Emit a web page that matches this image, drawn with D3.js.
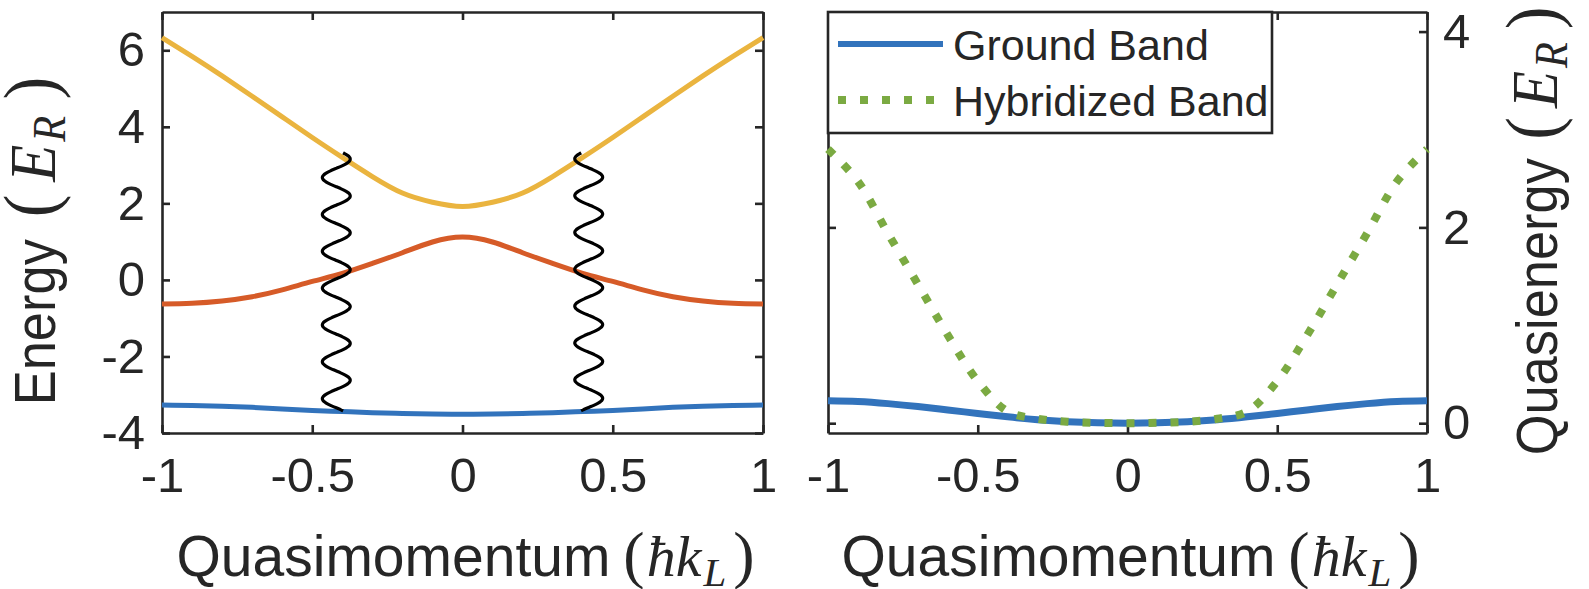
<!DOCTYPE html>
<html>
<head>
<meta charset="utf-8">
<script src="https://cdn.jsdelivr.net/npm/d3@7"></script>
<style>
  body { margin: 0; background: #fff; }
  svg text { fill: #262626; }
</style>
</head>
<body>
<div id="app"></div>
<script>
// quasimomentum grid, in units of hbar k_L
const quasimomentum = [-1, -0.9, -0.8, -0.7, -0.6, -0.5, -0.4, -0.3, -0.2, -0.1, 0,
                       0.1, 0.2, 0.3, 0.4, 0.5, 0.6, 0.7, 0.8, 0.9, 1];

// left panel: bare bands (E_R)
const upperBand  = [6.33, 5.84, 5.33, 4.80, 4.26, 3.72, 3.20, 2.70, 2.27, 2.03, 1.92,
                    2.03, 2.27, 2.70, 3.20, 3.72, 4.26, 4.80, 5.33, 5.84, 6.33];
const middleBand = [-0.63, -0.61, -0.55, -0.44, -0.26, -0.04, 0.17, 0.43, 0.71, 0.99, 1.12,
                    0.99, 0.71, 0.43, 0.17, -0.04, -0.26, -0.44, -0.55, -0.61, -0.63];
const groundBand = [-3.27, -3.28, -3.30, -3.33, -3.37, -3.41, -3.44, -3.47, -3.49, -3.505, -3.51,
                    -3.505, -3.49, -3.47, -3.44, -3.41, -3.37, -3.33, -3.30, -3.28, -3.27];

// right panel: quasienergies (E_R)
const groundQuasi = [0.23, 0.222, 0.20, 0.17, 0.135, 0.10, 0.065, 0.035, 0.015, 0.004, 0,
                     0.004, 0.015, 0.035, 0.065, 0.10, 0.135, 0.17, 0.20, 0.222, 0.23];
const hybridQuasi = [2.80, 2.47, 1.94, 1.42, 0.90, 0.43, 0.12, 0.045, 0.015, 0.004, 0,
                     0.004, 0.015, 0.045, 0.12, 0.43, 0.90, 1.42, 1.94, 2.47, 2.80];

// photon couplings drawn as wavy lines
const photonK = [-0.42, 0.42];
const photonFrom = [-3.42, -3.42];
const photonTo = [3.32, 3.32];
const photonPhase = [0.67, 0.16];
const photonCycles = 7;

const xTicks = [-1, -0.5, 0, 0.5, 1];
const leftYTicks = [-4, -2, 0, 2, 4, 6];
const rightYTicks = [0, 2, 4];
const legendLabels = ["Ground Band", "Hybridized Band"];

const W = 1589, H = 589;
const axisColor = "#262626";
const sans = "'Liberation Sans', Arial, Helvetica, sans-serif";
const serif = "'Liberation Serif', 'DejaVu Serif', serif";
const colors = { upper: "#EAB43F", middle: "#D65B28", ground: "#3273BC", hybrid: "#7BAA42" };
const tickFont = 49, labelFont = 57;

const svg = d3.select("#app").append("svg")
    .attr("width", W)
    .attr("height", H);

const plotTop = 12, plotBottom = 433;

// left panel scales
const xL = d3.scaleLinear().domain([-1, 1]).range([162, 763]);
const yL = d3.scaleLinear().domain([-4, 7]).range([plotBottom, plotTop]);
// right panel scales
const xR = d3.scaleLinear().domain([-1, 1]).range([828, 1427]);
const yR = d3.scaleLinear().domain([-0.1, 4.2]).range([plotBottom, plotTop]);

function styleAxis(g) {
    g.select(".domain").attr("stroke", axisColor).attr("stroke-width", 2.6);
    g.selectAll(".tick line").attr("stroke", axisColor).attr("stroke-width", 2.6);
    g.selectAll(".tick text")
        .style("font-family", sans)
        .style("font-size", tickFont + "px")
        .attr("fill", axisColor);
}

function drawBox(x, y, yTicks, labelSide) {
    const g = svg.append("g");
    const bottomAx = d3.axisBottom(x).tickValues(xTicks).tickSizeInner(-8).tickSizeOuter(0)
        .tickPadding(24).tickFormat(d3.format("~g"));
    styleAxis(g.append("g").attr("transform", `translate(0,${plotBottom})`).call(bottomAx));

    const topAx = d3.axisTop(x).tickValues(xTicks).tickSizeInner(-8).tickSizeOuter(0).tickFormat("");
    styleAxis(g.append("g").attr("transform", `translate(0,${plotTop})`).call(topAx));

    const x0 = x.range()[0], x1 = x.range()[1];
    const leftAx = d3.axisLeft(y).tickValues(yTicks).tickSizeInner(-8).tickSizeOuter(0)
        .tickPadding(17).tickFormat(labelSide === "left" ? d3.format("~g") : "");
    styleAxis(g.append("g").attr("transform", `translate(${x0},0)`).call(leftAx));

    const rightAx = d3.axisRight(y).tickValues(yTicks).tickSizeInner(-8).tickSizeOuter(0)
        .tickPadding(16).tickFormat(labelSide === "right" ? d3.format("~g") : "");
    styleAxis(g.append("g").attr("transform", `translate(${x1},0)`).call(rightAx));

    g.selectAll(".tick text").text(function() {
        return d3.select(this).text().replace("\u2212", "-");
    });
    return g;
}

// math part of an axis label: (symbol_sub) in serif italic
function addMath(t, symbol, sub, size, parenSize, gaps) {
    t.append("tspan").style("font-family", serif).style("font-size", parenSize + "px")
        .attr("dx", gaps[0]).text("(");
    t.append("tspan").style("font-family", serif).style("font-style", "italic")
        .style("font-size", size + "px").attr("dx", gaps[1]).text(symbol);
    t.append("tspan").style("font-family", serif).style("font-style", "italic")
        .style("font-size", Math.round(size * 0.7) + "px")
        .attr("dx", gaps[2]).attr("dy", 10).text(sub);
    t.append("tspan").style("font-family", serif).style("font-size", parenSize + "px")
        .attr("dx", gaps[3]).attr("dy", -10).text(")");
}

function xLabel(cx) {
    const t = svg.append("text")
        .attr("x", cx).attr("y", 576)
        .attr("text-anchor", "middle")
        .style("font-family", sans).style("font-size", labelFont + "px");
    t.append("tspan").text("Quasimomentum\u00a0");
    addMath(t, "\u0127k", "L", 58, 64, [-3, 2, 2, 7]);
}

function yLabel(x, cy, word, gaps) {
    const t = svg.append("text")
        .attr("transform", `translate(${x},${cy}) rotate(-90) scale(0.92,1)`)
        .attr("text-anchor", "middle")
        .style("font-family", sans).style("font-size", labelFont + "px");
    t.append("tspan").text(word + "\u00a0");
    addMath(t, "E", "R", 66, 74, gaps);
}

// ---------- left panel ----------
drawBox(xL, yL, leftYTicks, "left");

const lineL = (vals) => d3.line()
    .x((d, i) => xL(quasimomentum[i]))
    .y(d => yL(d))
    .curve(d3.curveNatural)(vals);

svg.append("path").attr("d", lineL(groundBand))
    .attr("fill", "none").attr("stroke", colors.ground).attr("stroke-width", 5);
svg.append("path").attr("d", lineL(middleBand))
    .attr("fill", "none").attr("stroke", colors.middle).attr("stroke-width", 5);
svg.append("path").attr("d", lineL(upperBand))
    .attr("fill", "none").attr("stroke", colors.upper).attr("stroke-width", 5);

// wavy photon lines
photonK.forEach((k, i) => {
    const xc = xL(k);
    const yTop = yL(photonTo[i]);
    const yBot = yL(photonFrom[i]);
    const len = yBot - yTop;
    const period = len / photonCycles;
    const amp = 14;
    const pts = d3.range(0, len + 0.5, 1).map(s =>
        [xc - amp * Math.cos(2 * Math.PI * (s / period - photonPhase[i])), yTop + s]);
    svg.append("path")
        .attr("d", d3.line().curve(d3.curveBasis)(pts))
        .attr("fill", "none").attr("stroke", "#000").attr("stroke-width", 3.2);
});

xLabel((xL.range()[0] + xL.range()[1]) / 2 + 3);
yLabel(55, 241, "Energy", [8, 14, 3, 18]);

// ---------- right panel ----------
drawBox(xR, yR, rightYTicks, "right");

const lineR = (vals, curve) => d3.line()
    .x((d, i) => xR(quasimomentum[i]))
    .y(d => yR(d))
    .curve(curve)(vals);

svg.append("path").attr("d", lineR(groundQuasi, d3.curveNatural))
    .attr("fill", "none").attr("stroke", colors.ground).attr("stroke-width", 7);
svg.append("path").attr("d", lineR(hybridQuasi, d3.curveCatmullRom.alpha(0.5)))
    .attr("fill", "none").attr("stroke", colors.hybrid).attr("stroke-width", 8)
    .attr("stroke-dasharray", "8 14");

// legend
const lg = svg.append("g");
lg.append("rect")
    .attr("x", 828).attr("y", 12).attr("width", 444).attr("height", 121)
    .attr("fill", "#fff").attr("stroke", axisColor).attr("stroke-width", 2.6);
const legendStyles = [
    { color: colors.ground, width: 6, dash: null, y: 44, x2: 943 },
    { color: colors.hybrid, width: 8, dash: "8 14", y: 100, x2: 935 }
];
legendLabels.forEach((name, i) => {
    const s = legendStyles[i];
    lg.append("line")
        .attr("x1", 838).attr("x2", s.x2).attr("y1", s.y).attr("y2", s.y)
        .attr("stroke", s.color).attr("stroke-width", s.width)
        .attr("stroke-dasharray", s.dash);
    lg.append("text")
        .attr("x", 953).attr("y", s.y + 16)
        .style("font-family", sans).style("font-size", "43px")
        .attr("fill", "#000")
        .text(name);
});

xLabel((xR.range()[0] + xR.range()[1]) / 2 + 3);
yLabel(1557, 231, "Quasienergy", [4, 10, 3, 14]);
</script>
</body>
</html>
